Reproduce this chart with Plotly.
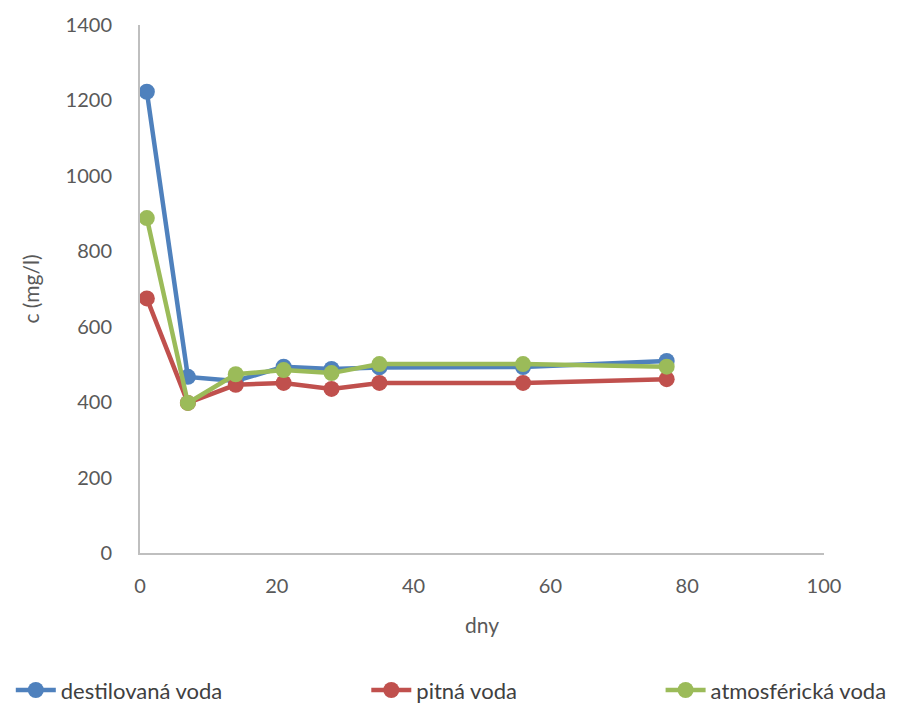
import plotly.graph_objects as go

days = [1, 7, 14, 21, 28, 35, 56, 77]
destilovana = [1223, 467, 456, 494, 488, 492, 493, 509]
pitna = [675, 398, 446, 451, 435, 451, 451, 461]
atmosfericka = [888, 398, 474, 485, 477, 501, 501, 494]

series = [
    ("destilovaná voda", destilovana, "#4F81BD", "legend", 0.012),
    ("pitná voda", pitna, "#C0504D", "legend2", 0.407),
    ("atmosférická voda", atmosfericka, "#9BBB59", "legend3", 0.734),
]

font_family = "Lato, 'Open Sans', sans-serif"

fig = go.Figure()
for name, vals, color, leg, _ in series:
    fig.add_trace(go.Scatter(
        x=days, y=vals, name=name, mode="lines+markers",
        line=dict(color=color, width=4.5),
        marker=dict(color=color, size=16),
        legend=leg,
    ))

legend_common = dict(
    orientation="h", yanchor="middle", xanchor="left",
    font=dict(family=font_family, size=22, color="#404040"),
    bgcolor="rgba(0,0,0,0)", itemwidth=40,
)
layout_legends = {}
for name, vals, color, leg, xpos in series:
    layout_legends[leg] = dict(x=xpos, y=0.021, xref="container", yref="container", **legend_common)

fig.update_layout(
    width=900, height=705,
    margin=dict(l=140, r=76, t=22, b=152),
    paper_bgcolor="white", plot_bgcolor="white",
    font=dict(family=font_family, size=20, color="#595959"),
    showlegend=True,
    xaxis=dict(
        range=[0, 100], tickvals=[0, 20, 40, 60, 80, 100],
        showgrid=False, zeroline=False,
        showline=True, linecolor="#BFBFBF", linewidth=2,
        ticks="", ticklabelstandoff=14,
        title=dict(text="dny", font=dict(size=21, color="#595959"), standoff=22),
    ),
    yaxis=dict(
        range=[0, 1400], tickvals=list(range(0, 1401, 200)),
        showgrid=False, zeroline=False,
        showline=True, linecolor="#BFBFBF", linewidth=2,
        ticks="", ticklabelstandoff=22,
        title=dict(text="c (mg/l)", font=dict(size=21, color="#595959"), standoff=20),
    ),
    **layout_legends,
)

fig.write_html("out.html")
